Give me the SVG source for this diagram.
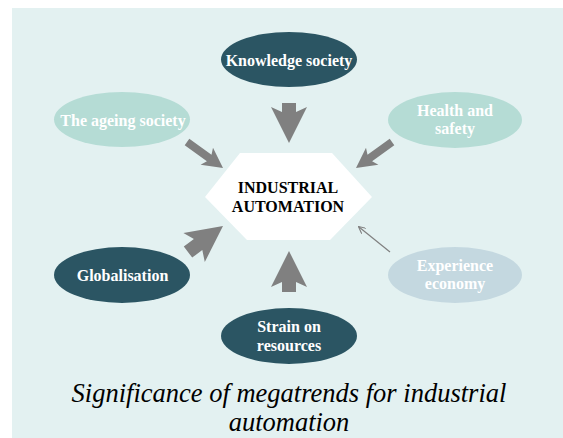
<svg xmlns="http://www.w3.org/2000/svg" width="563" height="438" viewBox="0 0 563 438">
  <defs>
    <style>
      .bg { fill: #e3f1f1; }
      .dark { fill: #2b5563; }
      .light { fill: #b5dcd5; }
      .pale { fill: #c4d8e0; }
      .lbl { font-family: "Liberation Serif", "Times New Roman", serif; font-weight: bold; font-size: 16px; fill: #ffffff; text-anchor: middle; }
      .center-lbl { font-family: "Liberation Serif", "Times New Roman", serif; font-weight: bold; font-size: 16px; fill: #000000; text-anchor: middle; }
      .caption { font-family: "Liberation Serif", "Times New Roman", serif; font-style: italic; font-size: 26.5px; fill: #000000; text-anchor: middle; }
      .big-arrow { fill: #808080; }
      .thin { stroke: #808080; stroke-width: 1.2; fill: none; }
    </style>
    <marker id="thinhead" viewBox="0 0 10 10" refX="9" refY="5" markerWidth="7" markerHeight="7" markerUnits="userSpaceOnUse" orient="auto">
      <path d="M0,0 L10,5 L0,10" fill="none" stroke="#808080" stroke-width="1.6"/>
    </marker>
  </defs>

  <rect class="bg" x="12" y="8" width="551" height="430"/>

  <g id="connectors">
    <polygon class="big-arrow" points="282,103 296,103 296,112 307,107 289,143 271,107 282,112"/>
    <polygon class="big-arrow" points="282,292 282,282 271,287 289,251 307,287 296,282 296,292"/>
    <polygon class="big-arrow" points="183.8,246.4 193.9,238.9 183.4,233.0 223,226 204.8,262.0 202.3,250.1 192.2,257.6"/>
    <polygon class="big-arrow" points="189.3,138.8 211.5,154.8 213.0,147.8 223,168 200.6,164.8 206.9,161.2 184.7,145.2"/>
    <polygon class="big-arrow" points="389.7,138.8 367.5,154.8 366.0,147.8 356,168 378.4,164.8 372.1,161.2 394.3,145.2"/>
    <line class="thin" x1="390" y1="252" x2="359" y2="227" marker-end="url(#thinhead)"/>
  </g>

  <g id="industrial-automation">
    <polygon fill="#ffffff" points="205,197 240,153 332,153 372,197 330,240 247,240"/>
    <text class="center-lbl" x="288" y="193">INDUSTRIAL</text>
    <text class="center-lbl" x="288" y="212">AUTOMATION</text>
  </g>

  <g id="knowledge-society">
    <ellipse class="dark" cx="289" cy="59.5" rx="68" ry="27.5"/>
    <text class="lbl" x="289" y="66">Knowledge society</text>
  </g>

  <g id="ageing-society">
    <ellipse class="light" cx="122" cy="119.5" rx="68" ry="27.5"/>
    <text class="lbl" x="123" y="126">The ageing society</text>
  </g>

  <g id="health-safety">
    <ellipse class="light" cx="455" cy="120" rx="67" ry="28"/>
    <text class="lbl" x="455" y="116">Health and</text>
    <text class="lbl" x="455" y="134">safety</text>
  </g>

  <g id="globalisation">
    <ellipse class="dark" cx="122" cy="275" rx="68" ry="28"/>
    <text class="lbl" x="122.5" y="281">Globalisation</text>
  </g>

  <g id="experience-economy">
    <ellipse class="pale" cx="455" cy="275" rx="67" ry="28"/>
    <text class="lbl" x="455" y="271">Experience</text>
    <text class="lbl" x="455" y="289">economy</text>
  </g>

  <g id="strain-on-resources">
    <ellipse class="dark" cx="289" cy="336" rx="68" ry="28"/>
    <text class="lbl" x="289" y="332">Strain on</text>
    <text class="lbl" x="289" y="351">resources</text>
  </g>

  <g id="caption">
    <text class="caption" x="289" y="402">Significance of megatrends for industrial</text>
    <text class="caption" x="289" y="431">automation</text>
  </g>
</svg>
